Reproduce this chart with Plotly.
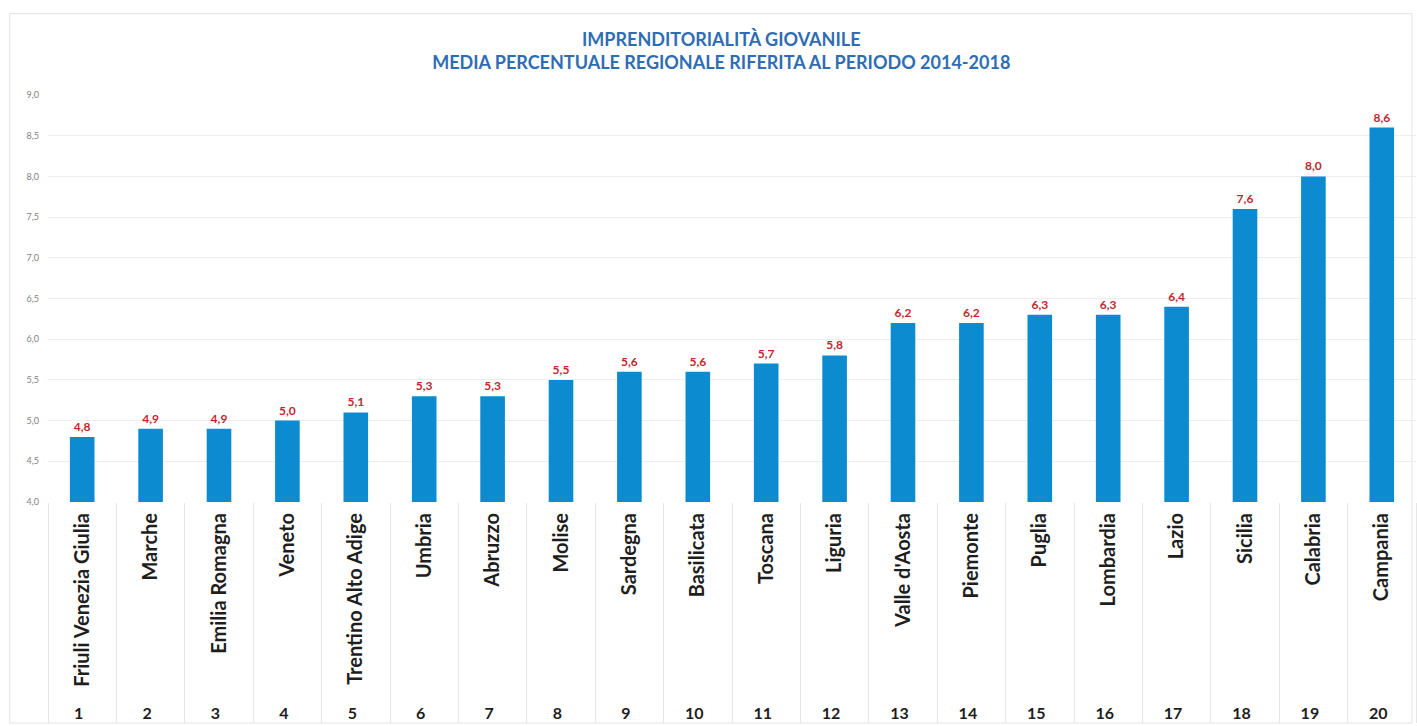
import plotly.graph_objects as go

# Youth entrepreneurship: regional average %, 2014-2018
ranks = [str(i) for i in range(1, 21)]
regions = [
    "Friuli Venezia Giulia", "Marche", "Emilia Romagna", "Veneto",
    "Trentino Alto Adige", "Umbria", "Abruzzo", "Molise", "Sardegna",
    "Basilicata", "Toscana", "Liguria", "Valle d'Aosta", "Piemonte",
    "Puglia", "Lombardia", "Lazio", "Sicilia", "Calabria", "Campania",
]
values = [4.8, 4.9, 4.9, 5.0, 5.1, 5.3, 5.3, 5.5, 5.6, 5.6,
          5.7, 5.8, 6.2, 6.2, 6.3, 6.3, 6.4, 7.6, 8.0, 8.6]
y_ticks = [4.0, 4.5, 5.0, 5.5, 6.0, 6.5, 7.0, 7.5, 8.0, 8.5, 9.0]

FONT = "Lato"

rank_labels = [f"<span style='font-size:16px'><b>{n}</b></span>" for n in ranks]
region_labels = [f"<b>{r}</b>" for r in regions]

fig = go.Figure(
    go.Bar(
        x=[rank_labels, region_labels],
        y=values,
        marker=dict(color="#0C8BD0", line=dict(width=0)),
        texttemplate="<b>%{y:.1f}</b>",
        textposition="outside",
        textfont=dict(family=FONT, size=12, color="#C0282D"),
        cliponaxis=False,
        hoverinfo="skip",
    )
)

fig.update_layout(
    width=1417,
    height=726,
    margin=dict(l=48, r=1, t=95, b=224),
    paper_bgcolor="white",
    plot_bgcolor="white",
    separators=",.",
    bargap=0.64,
    showlegend=False,
    title=dict(
        text="<b>IMPRENDITORIALITÀ GIOVANILE</b><br><b>MEDIA PERCENTUALE REGIONALE RIFERITA AL PERIODO 2014-2018</b>",
        x=0.509,
        xanchor="center",
        y=0.937,
        yanchor="top",
        font=dict(family=FONT, size=18, color="#2E6DB4"),
    ),
    xaxis=dict(
        type="multicategory",
        tickangle=-90,
        tickfont=dict(family=FONT, size=20, color="#1E1E1E"),
        showgrid=False,
        showline=False,
        ticks="",
        ticklabelstandoff=6,
        showdividers=True,
        dividercolor="#E6E6E6",
        dividerwidth=1,
    ),
    yaxis=dict(
        range=[4.0, 9.0],
        tickvals=y_ticks,
        tickformat=".1f",
        tickfont=dict(family=FONT, size=9, color="#7F7F7F"),
        showgrid=True,
        gridcolor="#EDEDED",
        gridwidth=1,
        zeroline=False,
        showline=False,
        ticks="",
        ticklabelstandoff=8,
    ),
    shapes=[
        dict(type="rect", xref="paper", yref="paper",
             x0=-0.028, x1=0.997, y0=-0.543, y1=1.2,
             line=dict(color="#E3E3E3", width=1), layer="below"),
    ],
)

fig.write_html("out.html")
